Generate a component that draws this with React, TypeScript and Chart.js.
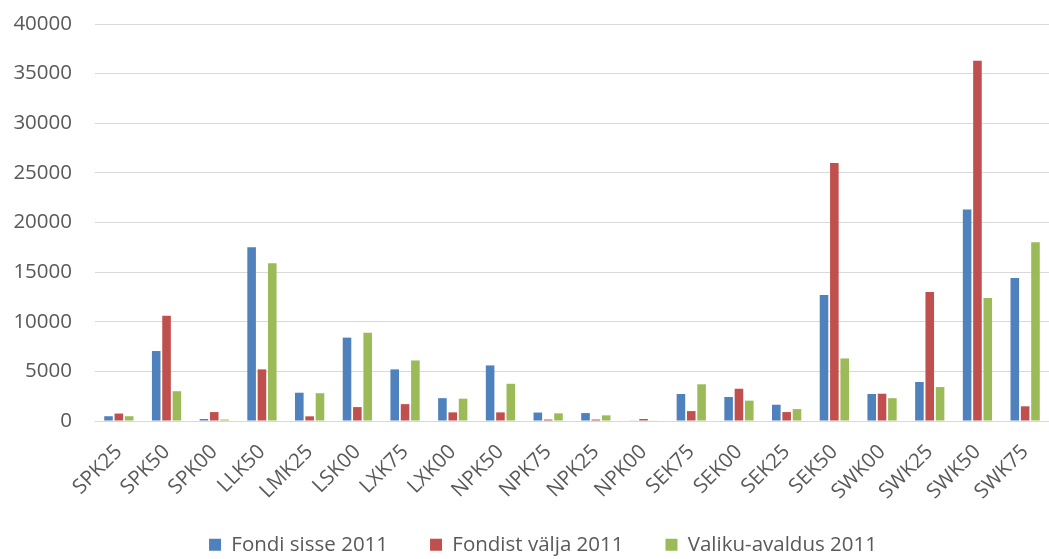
import React, { useEffect, useRef } from "react";
import { Chart, registerables } from "chart.js";

Chart.register(...registerables);

const categories = ["SPK25", "SPK50", "SPK00", "LLK50", "LMK25", "LSK00", "LXK75", "LXK00", "NPK50", "NPK75", "NPK25", "NPK00", "SEK75", "SEK00", "SEK25", "SEK50", "SWK00", "SWK25", "SWK50", "SWK75"];
const fondiSisse = [480, 7050, 200, 17500, 2850, 8400, 5200, 2300, 5600, 850, 800, 40, 2720, 2420, 1640, 12700, 2720, 3930, 21300, 14400];
const fondistValja = [750, 10600, 900, 5200, 470, 1400, 1700, 870, 870, 150, 150, 200, 1000, 3250, 900, 26000, 2750, 13000, 36300, 1480];
const valikuAvaldus = [480, 3000, 150, 15900, 2800, 8900, 6100, 2250, 3750, 770, 570, 60, 3700, 2050, 1200, 6300, 2300, 3420, 12400, 18000];
const seriesNames = ["Fondi sisse 2011", "Fondist välja 2011", "Valiku-avaldus 2011"];
const seriesColors = ["#4F81BD", "#C0504D", "#9BBB59"];
const yTicks = { min: 0, max: 40000, step: 5000 };

const FONT = "'Open Sans', 'DejaVu Sans', sans-serif";
const FS = 20.5;

const fixLayout = {
  id: "fixLayout",
  afterLayout(chart: any) {
    const lg = chart.legend;
    if (lg) {
      lg.top += 6;
      lg.bottom += 6;
      lg.left += 3;
      lg.right += 3;
    }
    const x = chart.scales.x;
    const y = chart.scales.y;
    if (x) x.bottom = chart.height;
    if (y) y.left = 0;
  },
};

export default function App() {
  const ref = useRef<HTMLCanvasElement>(null);
  useEffect(() => {
    document.body.style.margin = "0";
    const ctx = ref.current!;
    const chart = new Chart(ctx, {
      type: "bar",
      data: {
        labels: categories,
        datasets: [fondiSisse, fondistValja, valikuAvaldus].map((d, i) => ({
          label: seriesNames[i],
          data: d,
          backgroundColor: seriesColors[i],
          borderWidth: 0,
          categoryPercentage: 0.65,
          barPercentage: 0.83,
        })),
      },
      plugins: [fixLayout],
      options: {
        animation: false,
        responsive: false,
        maintainAspectRatio: false,
        layout: { padding: { top: 0, right: 0, left: 31, bottom: 0 } },
        plugins: {
          legend: {
            position: "bottom",
            labels: {
              boxWidth: 12,
              boxHeight: 12,
              padding: 42,
              color: "#595959",
              font: { family: FONT, size: FS },
            },
          },
          tooltip: { enabled: false },
        },
        scales: {
          x: {
            grid: { display: false, drawTicks: false },
            border: { color: "#D9D9D9", width: 1 },
            ticks: {
              color: "#595959",
              font: { family: FONT, size: FS },
              maxRotation: 45,
              minRotation: 45,
              padding: 19,
              autoSkip: false,
            },
            afterFit: (s: any) => {
              s.height = 65.5;
              s.paddingLeft = 0;
              s.paddingRight = 0;
            },
          },
          y: {
            min: yTicks.min,
            max: yTicks.max,
            grid: { color: "#D9D9D9", drawTicks: false },
            border: { display: false },
            ticks: {
              stepSize: yTicks.step,
              color: "#595959",
              font: { family: FONT, size: FS },
              padding: 23,
              callback: (v: any) => String(v),
            },
            afterFit: (s: any) => {
              s.width = 64;
              s.paddingTop = 24;
              s.paddingBottom = 0;
            },
          },
        },
      },
    });
    return () => chart.destroy();
  }, []);
  return (
    <div style={{ position: "fixed", left: 0, top: 0, width: 1049, height: 559 }}>
      <canvas ref={ref} width={1049} height={559} />
    </div>
  );
}
